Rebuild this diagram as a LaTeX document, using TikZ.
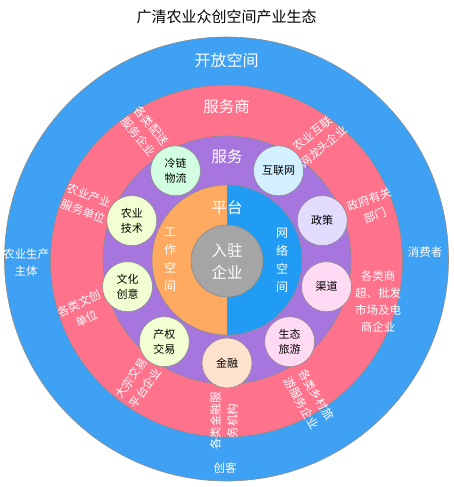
\documentclass[tikz,border=0pt]{standalone}
\usepackage{fontspec}
\setmainfont{Noto Sans CJK SC}
\definecolor{outerblue}{RGB}{62,161,243}
\definecolor{ringpink}{RGB}{255,114,140}
\definecolor{ringpurple}{RGB}{166,118,222}
\definecolor{coreorange}{RGB}{255,170,96}
\definecolor{coreblue}{RGB}{32,156,245}
\definecolor{coregray}{RGB}{165,165,165}
\definecolor{edgegray}{RGB}{140,140,140}
\definecolor{cmint}{RGB}{210,255,225}
\definecolor{ccyan}{RGB}{210,240,255}
\definecolor{clav}{RGB}{228,220,255}
\definecolor{cpink}{RGB}{255,218,242}
\definecolor{cpeach}{RGB}{255,226,205}
\definecolor{clime}{RGB}{242,255,210}
\tikzset{
  ring/.style={circle, draw=edgegray, line width=0.6pt, inner sep=0pt, outer sep=0pt},
  bubble/.style={circle, draw=edgegray, line width=0.6pt, minimum size=50pt, inner sep=0pt, align=center, text=black, font=\fontsize{11}{14.5}\selectfont},
  ringtxt/.style={text=white, align=center, inner sep=0pt, font=\fontsize{11.5}{17}\selectfont},
  bigtxt/.style={text=white, align=center, inner sep=0pt, font=\fontsize{15.5}{22}\selectfont}
}
\begin{document}
\begin{tikzpicture}[x=1pt,y=-1pt]
\useasboundingbox (0,0) rectangle (454,487);
\fill[white] (0,0) rectangle (454,487);
\node[font=\fontsize{15}{18}\selectfont, text=black, inner sep=0pt] (title) at (226.5,16.5) {广清农业众创空间产业生态};
% rings
\node[ring, fill=outerblue, minimum size=444pt] (open) at (226.5,259) {};
\node[ring, fill=ringpink, minimum size=352pt] (svc) at (226.5,261) {};
\node[ring, fill=ringpurple, minimum size=248pt] (serv) at (227,260) {};
% core halves
\fill[coreorange] (227,185) arc (90:270:75pt) -- cycle;
\fill[coreblue] (227,185) arc (90:-90:75pt) -- cycle;
\node[ring, minimum size=150pt] (core) at (227,260) {};
\node[ring, fill=coregray, minimum size=72pt] (hub) at (227,261) {};
% big labels
\node[bigtxt, font=\fontsize{16}{22}\selectfont] (lopen) at (226.5,60) {开放空间};
\node[bigtxt] (lsvc) at (226.5,107) {服务商};
\node[bigtxt] (lserv) at (227,157) {服务};
\node[bigtxt] (lplat) at (227,208) {平台};
\node[bigtxt] (lhub) at (227,261) {入驻\\企业};
\node[text=white, align=center, inner sep=0pt, font=\fontsize{12}{18}\selectfont] (lwork) at (170,260) {工\\作\\空\\间};
\node[text=white, align=center, inner sep=0pt, font=\fontsize{12}{18}\selectfont] (lnet) at (282,260) {网\\络\\空\\间};
% outer ring labels
\node[ringtxt] (o1) at (26,263) {农业生产\\主体};
\node[ringtxt] (o2) at (425,252) {消费者};
\node[ringtxt] (o3) at (225,468) {创客};
% pink ring labels
\node[ringtxt, rotate=-50] (p1) at (145,131) {各类配送\\服务企业};
\node[ringtxt, rotate=40] (p2) at (318,140) {农业互联\\网龙头企业};
\node[ringtxt, rotate=-20] (p3) at (86,203) {农业产业\\服务单位};
\node[ringtxt, rotate=25] (p4) at (83,311) {各类文创\\单位};
\node[ringtxt, rotate=20] (p5) at (372,207) {政府有关\\部门};
\node[ringtxt] (p6) at (378,302) {各类商\\超、批发\\市场及电\\商企业};
\node[ringtxt, rotate=55] (p7) at (138,383) {大宗交易\\平台企业};
\node[ringtxt, rotate=90] (p8) at (224,421) {各类金融服\\务机构};
\node[ringtxt, rotate=-60] (p9) at (309,399) {各类乡村旅\\游服务企业};
% bubbles
\node[bubble, fill=cmint] (b1) at (175.5,170.8) {冷链\\物流};
\node[bubble, fill=ccyan] (b2) at (278.5,170.8) {互联网};
\node[bubble, fill=clav] (b3) at (322.2,220.6) {政策};
\node[bubble, fill=cpink] (b4) at (326.5,286.7) {渠道};
\node[bubble, fill=cpink] (b5) at (289.7,341.7) {生态\\旅游};
\node[bubble, fill=cpeach] (b6) at (227,363) {金融};
\node[bubble, fill=clime] (b7) at (164.3,341.7) {产权\\交易};
\node[bubble, fill=clime] (b8) at (127.5,286.7) {文化\\创意};
\node[bubble, fill=clime] (b9) at (131.8,220.6) {农业\\技术};
\end{tikzpicture}
\end{document}
